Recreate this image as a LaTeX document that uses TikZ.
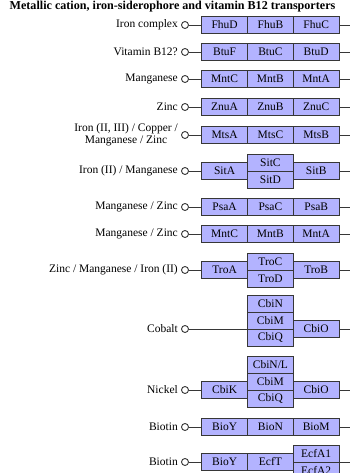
\documentclass[tikz,border=0pt]{standalone}
\usepackage{fontspec}
\setmainfont{Liberation Serif}
\usetikzlibrary{positioning}
\definecolor{boxfill}{RGB}{179,179,255}
\definecolor{edgegray}{RGB}{55,55,55}

\tikzset{
  part/.style={draw=edgegray, fill=boxfill, line width=0.9pt, outer sep=0pt,
    minimum width=45.8pt, minimum height=17pt, inner sep=0pt,
    font=\fontsize{11.5}{12}\selectfont},
  port/.style={circle, draw=edgegray, fill=white, line width=0.9pt,
    minimum size=7pt, inner sep=0pt},
  ligand/.style={anchor=east, inner sep=0pt, align=center,
    font=\fontsize{11.5}{11.5}\selectfont},
  wire/.style={draw=edgegray, line width=0.9pt},
}

\begin{document}
\begin{tikzpicture}[x=1pt,y=-1pt]
  \useasboundingbox (0,0) rectangle (350,473);
  \node[font=\bfseries\fontsize{12.1}{13}\selectfont] (title) at (172.5,6.5)
    {Metallic cation, iron-siderophore and vitamin B12 transporters};

  % plain three-part transporters
  \foreach \n/\y/\lab/\a/\b/\c in {
      1/25/{Iron complex}/FhuD/FhuB/FhuC,
      2/52/{Vitamin B12?}/BtuF/BtuC/BtuD,
      3/79/{Manganese}/MntC/MntB/MntA,
      4/107/{Zinc}/ZnuA/ZnuB/ZnuC,
      5/135/{Iron (II, III) / Copper /\\ Manganese / Zinc}/MtsA/MtsC/MtsB,
      7/207/{Manganese / Zinc}/PsaA/PsaC/PsaB,
      8/234/{Manganese / Zinc}/MntC/MntB/MntA,
      12/427/{Biotin}/BioY/BioN/BioM} {
    \node[ligand] (l\n) at (178,\y) {\lab};
    \node[port] (p\n) at (185,\y) {};
    \node[part,anchor=west] (a\n) at (201.7,\y) {\a};
    \node[part,right=0pt of a\n] (b\n) {\b};
    \node[part,right=0pt of b\n] (c\n) {\c};
    \coordinate (e\n) at (350,\y);
    \draw[wire] (p\n) -- (a\n);
    \draw[wire] (c\n) -- (e\n);
  }

  % split middle part
  \foreach \n/\y/\lab/\a/\c/\d/\b in {
      6/171/{Iron (II) / Manganese}/SitA/SitC/SitD/SitB,
      9/270/{Zinc / Manganese / Iron (II)}/TroA/TroC/TroD/TroB} {
    \node[ligand] (l\n) at (178,\y) {\lab};
    \node[port] (p\n) at (185,\y) {};
    \node[part,anchor=west] (a\n) at (201.7,\y) {\a};
    \node[part,anchor=south west] (c\n) at (a\n.east) {\c};
    \node[part,anchor=north west] (d\n) at (a\n.east) {\d};
    \node[part,anchor=west] (b\n) at (c\n.south east) {\b};
    \coordinate (e\n) at (350,\y);
    \draw[wire] (p\n) -- (a\n);
    \draw[wire] (b\n) -- (e\n);
  }

  % cobalt
  \node[ligand] (l10) at (178,329) {Cobalt};
  \node[port] (p10) at (185,329) {};
  \coordinate (j10) at (247.5,329);
  \node[part,anchor=south west] (m10) at (j10) {CbiM};
  \node[part,anchor=north west] (q10) at (j10) {CbiQ};
  \node[part,anchor=south] (n10) at (m10.north) {CbiN};
  \node[part,anchor=west] (o10) at (m10.south east) {CbiO};
  \coordinate (e10) at (350,329);
  \draw[wire] (p10) -- (j10);
  \draw[wire] (o10) -- (e10);

  % nickel
  \node[ligand] (l11) at (178,390) {Nickel};
  \node[port] (p11) at (185,390) {};
  \node[part,anchor=west] (a11) at (201.7,390) {CbiK};
  \node[part,anchor=south west] (m11) at (a11.east) {CbiM};
  \node[part,anchor=north west] (q11) at (a11.east) {CbiQ};
  \node[part,anchor=south] (n11) at (m11.north) {CbiN/L};
  \node[part,anchor=west] (o11) at (m11.south east) {CbiO};
  \coordinate (e11) at (350,390);
  \draw[wire] (p11) -- (a11);
  \draw[wire] (o11) -- (e11);

  % biotin, ECF type
  \node[ligand] (l13) at (178,462) {Biotin};
  \node[port] (p13) at (185,462) {};
  \node[part,anchor=west] (a13) at (201.7,462) {BioY};
  \node[part,right=0pt of a13] (b13) {EcfT};
  \node[part,anchor=south west] (f13) at (b13.east) {EcfA1};
  \node[part,anchor=north west] (g13) at (b13.east) {EcfA2};
  \coordinate (e13) at (350,462);
  \draw[wire] (p13) -- (a13);
  \draw[wire] (f13.south east) -- (e13);
\end{tikzpicture}
\end{document}
